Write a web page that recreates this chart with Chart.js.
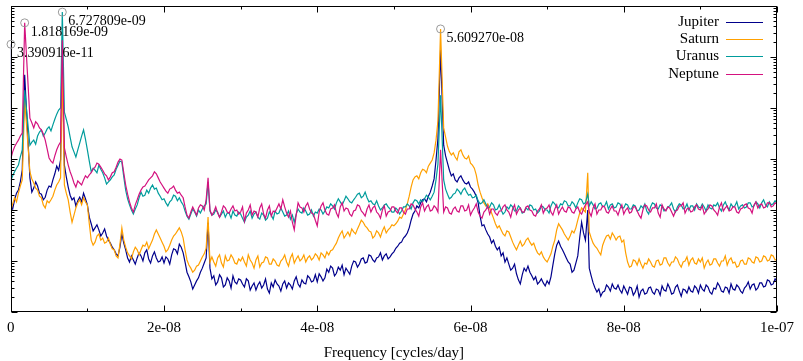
<!DOCTYPE html>
<html><head><meta charset="utf-8">
<script src="https://cdn.jsdelivr.net/npm/chart.js@4.4.1/dist/chart.umd.min.js"></script>
<style>html,body{margin:0;padding:0;background:#fff}</style>
</head><body>
<canvas id="c" width="803" height="361"></canvas>
<script>
// Frequency in units of 1e-8 cycles/day
const freqE8 = [
 0.003390916,0.00678,0.025,0.05,0.075,0.1,0.125,0.15,0.1818169,0.25,0.275,0.3,0.325,0.35,0.375,0.4,0.425,0.45,0.475,0.5,0.525,0.55,0.575,0.6,0.625,0.65,0.6727809,0.7,0.725,0.75,0.775,0.8,0.825,0.85,0.875,0.9,0.925,0.95,0.975,
 1,1.025,1.05,1.075,1.1,1.125,1.15,1.175,1.2,1.225,1.25,1.275,1.3,1.325,1.35,1.375,1.4,1.425,1.45,1.475,1.5,1.525,1.55,1.575,1.6,1.625,1.65,1.675,1.7,1.725,1.75,1.775,1.8,1.825,1.85,1.875,1.9,1.925,1.95,1.975,
 2,2.025,2.05,2.075,2.1,2.125,2.15,2.175,2.2,2.225,2.25,2.275,2.3,2.325,2.35,2.375,2.4,2.425,2.45,2.475,2.5,2.525,2.55,2.575,2.6,2.625,2.65,2.675,2.7,2.725,2.75,2.775,2.8,2.825,2.85,2.875,2.9,2.925,2.95,2.975,
 3,3.025,3.05,3.075,3.1,3.125,3.15,3.175,3.2,3.225,3.25,3.275,3.3,3.325,3.35,3.375,3.4,3.425,3.45,3.475,3.5,3.525,3.55,3.575,3.6,3.625,3.65,3.675,3.7,3.725,3.75,3.775,3.8,3.825,3.85,3.875,3.9,3.925,3.95,3.975,
 4,4.025,4.05,4.075,4.1,4.125,4.15,4.175,4.2,4.225,4.25,4.275,4.3,4.325,4.35,4.375,4.4,4.425,4.45,4.475,4.5,4.525,4.55,4.575,4.6,4.625,4.65,4.675,4.7,4.725,4.75,4.775,4.8,4.825,4.85,4.875,4.9,4.925,4.95,4.975,
 5,5.025,5.05,5.075,5.1,5.125,5.15,5.175,5.2,5.225,5.25,5.275,5.3,5.325,5.35,5.375,5.4,5.425,5.45,5.475,5.5,5.525,5.55,5.575,5.60927,5.65,5.675,5.7,5.725,5.75,5.775,5.8,5.825,5.85,5.875,5.9,5.925,5.95,5.975,
 6,6.025,6.05,6.075,6.1,6.125,6.15,6.175,6.2,6.225,6.25,6.275,6.3,6.325,6.35,6.375,6.4,6.425,6.45,6.475,6.5,6.525,6.55,6.575,6.6,6.625,6.65,6.675,6.7,6.725,6.75,6.775,6.8,6.825,6.85,6.875,6.9,6.925,6.95,6.975,
 7,7.025,7.05,7.075,7.1,7.125,7.15,7.175,7.2,7.225,7.25,7.275,7.3,7.325,7.35,7.375,7.4,7.425,7.45,7.475,7.5,7.53,7.55,7.575,7.6,7.625,7.65,7.675,7.7,7.725,7.75,7.775,7.8,7.825,7.85,7.875,7.9,7.925,7.95,7.975,
 8,8.025,8.05,8.075,8.1,8.125,8.15,8.175,8.2,8.225,8.25,8.275,8.3,8.325,8.35,8.375,8.4,8.425,8.45,8.475,8.5,8.525,8.55,8.575,8.6,8.625,8.65,8.675,8.7,8.725,8.75,8.775,8.8,8.825,8.85,8.875,8.9,8.925,8.95,8.975,
 9,9.025,9.05,9.075,9.1,9.125,9.15,9.175,9.2,9.225,9.25,9.275,9.3,9.325,9.35,9.375,9.4,9.425,9.45,9.475,9.5,9.525,9.55,9.575,9.6,9.625,9.65,9.675,9.7,9.725,9.75,9.775,9.8,9.825,9.85,9.875,9.9,9.925,9.95,9.975,10
];
// log10 of spectral power (arbitrary units)
const jupiterLog = [
 5.25,2.10,2.02,2.20,2.33,2.39,2.55,2.78,4.65,2.63,2.35,2.43,2.55,2.47,2.33,2.31,2.20,2.25,2.39,2.47,2.45,2.59,2.71,2.86,2.78,2.98,5.04,2.88,2.65,2.45,2.29,2.20,2.24,2.08,2.18,2.25,2.16,2.33,2.22,
 2.10,1.86,1.73,1.59,1.65,1.71,1.61,1.49,1.55,1.63,1.49,1.41,1.35,1.27,1.22,1.14,1.10,1.27,1.53,1.35,1.22,1.06,0.98,1.10,1.02,0.94,1.06,1.16,1.10,1.00,1.16,1.22,1.04,0.96,1.10,1.18,1.06,0.98,1.00,1.08,
 0.96,1.08,1.04,0.94,1.12,1.24,1.22,1.14,1.33,1.27,1.16,0.98,0.78,0.69,0.59,0.45,0.53,0.61,0.67,0.78,0.86,0.96,1.06,1.75,0.86,0.65,0.71,0.53,0.59,0.73,0.67,0.49,0.53,0.67,0.61,0.47,0.71,0.59,0.55,0.65,
 0.63,0.55,0.49,0.65,0.61,0.43,0.51,0.57,0.43,0.53,0.59,0.47,0.53,0.65,0.45,0.37,0.57,0.49,0.63,0.55,0.51,0.41,0.55,0.61,0.47,0.57,0.53,0.45,0.61,0.69,0.55,0.49,0.63,0.57,0.55,0.71,0.67,0.59,0.61,0.73,
 0.59,0.75,0.69,0.61,0.67,0.84,0.78,0.90,0.86,0.71,0.76,0.88,0.82,0.92,0.73,0.86,0.80,0.74,0.90,1.00,0.98,0.88,0.94,1.04,1.06,0.96,0.98,1.12,1.10,1.02,0.98,1.06,1.08,1.16,1.02,1.10,1.14,1.04,1.08,1.14,
 1.18,1.25,1.29,1.35,1.37,1.45,1.49,1.55,1.65,1.80,1.92,1.98,2.08,2.04,2.14,2.20,2.22,2.16,2.27,2.35,2.47,2.61,2.98,3.40,5.14,3.27,3.06,2.92,2.78,2.67,2.71,2.59,2.55,2.63,2.67,2.59,2.53,2.51,2.55,
 2.45,2.41,2.35,2.27,2.14,1.88,1.69,1.71,1.61,1.53,1.47,1.35,1.41,1.29,1.22,1.27,1.10,1.16,0.98,1.06,0.94,0.82,0.86,0.94,0.75,0.63,0.55,0.73,0.86,0.80,0.90,0.78,0.71,0.63,0.69,0.55,0.59,0.65,0.57,0.51,
 0.61,0.55,0.69,0.92,1.14,1.31,1.39,1.29,1.22,1.14,1.06,0.98,0.94,0.78,0.82,0.96,1.10,1.45,1.76,1.55,1.41,2.00,0.86,0.71,0.57,0.47,0.39,0.45,0.31,0.39,0.41,0.53,0.49,0.41,0.55,0.47,0.45,0.53,0.43,0.37,
 0.51,0.43,0.35,0.49,0.47,0.33,0.39,0.51,0.29,0.41,0.45,0.35,0.37,0.47,0.49,0.39,0.35,0.45,0.43,0.33,0.51,0.43,0.41,0.55,0.47,0.35,0.37,0.49,0.53,0.41,0.31,0.45,0.43,0.37,0.49,0.41,0.39,0.51,0.47,0.37,
 0.53,0.45,0.41,0.53,0.49,0.39,0.35,0.47,0.45,0.57,0.51,0.41,0.39,0.49,0.47,0.37,0.55,0.45,0.43,0.53,0.49,0.41,0.37,0.47,0.51,0.59,0.45,0.53,0.55,0.43,0.47,0.57,0.57,0.49,0.51,0.63,0.61,0.53,0.55,0.65,0.59
];
const saturnLog = [
 2.00,2.00,2.12,2.24,2.16,2.33,2.47,2.59,4.16,2.75,2.61,2.53,2.43,2.39,2.27,2.24,2.10,2.04,2.18,2.14,2.20,2.27,2.39,2.49,2.55,2.63,4.75,2.49,2.33,2.20,1.96,1.76,1.90,2.04,2.14,2.20,2.10,2.24,2.16,
 2.10,1.73,1.41,1.31,1.37,1.49,1.53,1.41,1.45,1.35,1.37,1.45,1.33,1.24,1.22,1.10,1.06,1.33,1.65,1.41,1.27,1.16,1.10,1.04,1.18,1.27,1.22,1.12,1.22,1.31,1.29,1.37,1.24,1.33,1.41,1.53,1.61,1.53,1.45,1.37,
 1.29,1.18,1.22,1.31,1.41,1.49,1.53,1.59,1.65,1.57,1.45,1.22,1.02,0.92,0.86,0.78,0.82,0.90,0.92,1.00,1.08,1.14,1.25,1.86,0.98,1.08,0.98,0.90,1.06,1.12,0.96,0.88,1.10,1.00,1.02,1.12,1.06,0.96,0.94,1.04,
 1.00,1.08,0.98,0.90,1.12,1.02,0.96,0.86,1.02,1.10,0.88,0.96,0.98,1.08,1.06,0.94,0.94,1.04,1.00,0.92,0.90,1.00,1.04,1.12,0.98,0.90,1.06,1.14,0.96,1.04,1.10,1.00,1.04,1.12,0.98,1.06,1.10,1.02,1.06,1.14,
 1.10,1.02,1.16,1.12,1.06,1.18,1.12,1.20,1.22,1.29,1.35,1.45,1.53,1.59,1.45,1.51,1.57,1.49,1.63,1.57,1.53,1.63,1.71,1.80,1.76,1.69,1.65,1.59,1.57,1.45,1.49,1.59,1.55,1.47,1.59,1.67,1.55,1.61,1.65,1.71,
 1.69,1.73,1.78,1.86,1.84,1.92,2.00,2.12,2.27,2.45,2.59,2.65,2.67,2.61,2.73,2.80,2.78,2.73,2.86,2.92,2.98,3.12,3.37,3.75,5.55,3.61,3.43,3.25,3.14,3.08,3.12,3.04,2.98,3.14,3.18,3.08,3.02,3.00,3.06,
 2.92,2.88,2.82,2.69,2.49,2.35,2.24,2.14,2.08,2.12,2.04,1.94,1.84,1.73,1.65,1.69,1.61,1.53,1.49,1.59,1.57,1.47,1.37,1.29,1.22,1.31,1.39,1.29,1.33,1.41,1.45,1.37,1.31,1.35,1.24,1.16,1.12,1.18,1.08,1.02,
 0.98,1.06,1.14,1.29,1.41,1.61,1.73,1.67,1.61,1.53,1.47,1.41,1.49,1.59,1.55,1.65,1.80,1.94,2.04,2.00,1.96,2.73,1.57,1.45,1.35,1.29,1.25,1.18,1.12,1.31,1.41,1.49,1.51,1.43,1.55,1.49,1.41,1.47,1.49,1.37,
 1.41,1.16,0.98,0.88,0.90,1.02,1.00,0.92,1.04,0.94,0.86,0.96,0.94,1.04,0.98,0.90,0.88,1.00,1.02,0.92,0.94,1.06,1.06,0.96,0.90,0.98,0.98,1.08,1.04,0.94,0.88,0.98,1.00,1.08,0.92,1.02,1.06,0.96,0.94,1.04,
 0.98,1.06,0.86,0.96,1.02,0.92,0.94,1.04,1.04,0.96,0.90,1.00,1.00,1.10,0.92,1.02,1.06,0.96,0.98,0.88,0.90,1.00,1.02,0.94,0.94,1.06,1.04,0.98,0.96,1.08,1.06,0.98,1.00,1.10,1.08,1.00,1.02,1.12,1.10,1.02,1.04
];
const uranusLog = [
 2.59,2.59,2.67,2.75,2.82,2.88,3.04,3.18,4.35,3.27,3.33,3.37,3.29,3.45,3.53,3.57,3.45,3.51,3.59,3.63,3.55,3.67,3.78,3.88,3.96,4.00,5.88,3.92,3.78,3.63,3.43,3.24,3.14,3.04,3.18,3.31,3.45,3.57,3.39,
 3.18,2.96,2.75,2.82,2.78,2.73,2.88,2.80,2.73,2.63,2.51,2.55,2.59,2.65,2.69,2.80,2.88,2.96,2.94,2.65,2.39,2.22,2.10,2.00,1.92,2.02,2.10,2.24,2.35,2.27,2.29,2.39,2.33,2.43,2.49,2.41,2.43,2.33,2.27,2.20,
 2.22,2.14,2.08,2.16,2.20,2.29,2.27,2.18,2.24,2.16,2.10,1.98,1.88,1.82,1.92,2.02,1.96,1.88,2.00,1.94,2.02,2.08,2.12,2.55,1.98,1.90,1.92,2.00,1.96,1.86,1.92,1.98,1.86,1.94,1.94,1.84,1.98,1.90,1.88,1.96,
 1.92,1.84,1.76,1.86,1.90,1.98,1.84,1.92,1.96,1.86,1.82,1.94,1.90,1.80,1.84,1.96,1.90,1.82,1.98,1.92,1.94,2.04,1.96,1.88,1.90,1.98,1.82,1.90,1.76,1.92,2.02,1.96,1.94,2.04,1.98,1.90,1.92,2.00,1.88,1.96,
 1.94,2.02,2.00,1.92,1.98,2.06,2.04,2.12,2.08,2.02,2.14,2.22,2.16,2.10,2.18,2.27,2.22,2.16,2.14,2.20,2.25,2.31,2.33,2.24,2.27,2.35,2.24,2.16,2.18,2.12,2.10,2.18,2.08,2.00,2.04,2.10,2.12,2.06,2.02,1.96,
 1.96,2.04,2.00,1.92,1.98,2.06,2.06,2.12,2.08,2.02,2.14,2.20,2.18,2.12,2.20,2.16,2.22,2.29,2.25,2.20,2.27,2.35,2.59,2.90,4.25,2.59,2.41,2.31,2.22,2.25,2.31,2.33,2.41,2.37,2.31,2.39,2.43,2.35,2.29,
 2.31,2.24,2.25,2.29,2.18,2.12,2.14,2.20,2.12,2.04,2.06,2.14,2.10,2.00,2.02,2.10,2.00,1.92,1.96,2.06,2.02,2.10,2.06,1.98,1.98,2.08,2.04,1.94,1.96,2.04,2.00,2.10,2.08,2.00,2.02,1.94,1.98,2.08,2.06,2.00,
 2.00,1.94,2.08,2.16,2.12,2.06,2.04,2.12,2.10,2.18,2.16,2.08,2.08,2.16,2.12,2.04,2.14,2.22,2.20,2.12,2.14,2.31,2.08,2.16,2.10,2.02,2.04,2.12,2.14,2.06,2.08,2.16,2.02,2.10,2.12,2.04,2.06,2.14,2.12,2.04,
 2.04,2.12,2.10,2.02,2.02,2.10,2.08,1.98,2.00,2.08,2.04,2.12,1.98,1.92,2.06,2.14,2.12,2.04,2.02,2.10,2.08,1.98,2.00,2.06,2.08,2.14,2.02,1.96,2.06,2.12,2.10,2.02,2.04,2.12,2.00,2.08,2.08,2.00,2.12,2.06,
 2.04,2.12,2.06,1.98,2.10,2.04,2.02,2.10,2.08,2.14,2.04,1.98,2.10,2.16,2.06,2.00,2.12,2.06,2.08,2.16,2.02,2.08,2.10,2.04,2.06,2.14,2.14,2.06,2.08,2.16,2.12,2.04,2.14,2.20,2.10,2.06,2.16,2.10,2.12,2.18,2.14
];
const neptuneLog = [
 3.02,3.02,3.14,3.24,3.31,3.37,3.45,3.51,5.67,3.80,3.71,3.61,3.73,3.69,3.61,3.57,3.49,3.37,3.20,3.02,2.96,2.92,3.06,3.18,3.27,3.33,5.33,3.22,3.04,2.88,2.75,2.65,2.53,2.45,2.57,2.53,2.49,2.59,2.67,
 2.63,2.69,2.73,2.80,2.84,2.92,2.90,2.84,2.78,2.71,2.67,2.59,2.65,2.73,2.75,2.84,2.94,3.00,2.98,2.73,2.49,2.31,2.16,2.04,1.96,2.10,2.20,2.31,2.39,2.45,2.47,2.53,2.59,2.63,2.67,2.75,2.71,2.63,2.55,2.49,
 2.43,2.37,2.33,2.41,2.43,2.47,2.39,2.33,2.35,2.29,2.24,2.06,1.90,1.84,1.96,2.06,1.98,1.90,2.04,2.10,2.08,2.00,2.20,2.63,2.00,1.90,1.96,2.06,1.94,1.86,1.96,2.08,2.04,1.96,1.94,2.02,2.08,1.98,2.00,1.92,
 1.96,2.06,1.78,1.94,2.00,2.10,1.90,1.98,1.96,1.86,2.04,2.12,1.92,1.84,2.00,2.08,1.88,1.98,1.96,2.04,2.12,2.02,2.20,2.06,1.94,1.86,1.98,1.76,1.61,1.90,2.14,2.06,2.04,1.96,2.08,2.14,2.02,1.94,1.92,1.80,
 1.69,1.96,2.08,2.14,2.00,1.92,1.90,2.02,2.04,2.10,1.94,1.86,2.06,2.14,1.98,2.04,2.02,1.92,1.88,1.98,2.00,2.10,2.08,1.98,1.94,1.88,2.02,2.10,1.96,2.04,2.08,1.96,1.92,1.84,2.00,2.08,1.88,1.96,1.98,2.06,
 2.06,1.98,1.94,2.04,2.04,1.96,1.92,2.02,2.02,2.12,2.10,2.02,1.96,1.88,2.06,2.14,1.98,2.06,2.10,1.98,2.00,2.08,2.04,1.96,3.18,1.96,2.06,2.04,1.94,1.92,2.02,2.06,1.98,1.96,2.08,2.08,1.98,2.00,2.10,
 1.90,1.98,2.04,2.12,1.96,1.88,1.84,1.96,2.00,2.08,1.92,2.02,2.02,1.94,1.90,1.98,1.98,2.06,2.10,2.00,1.96,1.86,2.02,2.10,1.92,2.00,2.04,1.96,1.96,2.06,2.08,2.00,1.98,1.90,1.88,1.98,2.02,2.10,1.94,2.02,
 2.04,2.10,1.96,1.90,2.02,2.10,1.92,2.00,2.06,1.98,1.96,2.06,2.04,1.96,1.94,2.02,2.06,1.96,1.92,2.02,2.10,2.16,1.96,1.88,2.04,2.12,1.92,2.00,2.00,2.08,2.06,1.96,1.94,2.02,2.08,1.98,1.98,1.90,2.02,2.10,
 1.92,2.00,2.04,1.94,1.96,2.06,2.06,1.98,1.90,1.84,2.00,2.10,2.08,2.00,1.96,2.04,2.04,2.12,1.94,1.86,2.10,2.02,1.98,2.06,2.04,1.96,1.88,1.98,2.00,2.08,2.08,2.14,1.94,2.02,2.04,1.96,1.98,2.06,2.10,2.02,
 2.00,2.08,1.92,1.98,2.02,2.10,2.08,2.00,1.96,1.90,2.06,2.14,1.98,2.04,2.08,1.98,2.00,2.06,2.06,1.96,1.94,2.02,2.04,2.10,2.12,2.04,2.02,1.94,2.10,2.16,2.04,2.10,2.12,2.04,2.06,2.14,2.14,2.06,2.08,2.14,2.12
];
const seriesNames = ['Jupiter', 'Saturn', 'Uranus', 'Neptune'];
const seriesColors = ['#00008b', '#ffa000', '#009c9c', '#d4127f'];
const peakFreqs = [3.390916e-11, 1.818169e-09, 6.727809e-09, 5.609270e-08];
const peakSeries = [0, 3, 2, 1];
const xMinE8 = 0, xMaxE8 = 10, xStepE8 = 2;
const yMin = 1, yMax = 1e6;

const allLogs = [jupiterLog, saturnLog, uranusLog, neptuneLog];
allLogs.forEach((a, i) => { if (a.length !== freqE8.length) throw new Error(seriesNames[i] + ' length ' + a.length + ' vs ' + freqE8.length); });

const FONT = '"Liberation Serif", "Times New Roman", serif';
const padExp = s => s.replace(/e([+-])(\d)$/, 'e$10$2');
const fmtTick = v => v === 0 ? '0' : padExp(parseFloat((v * 1e-8).toPrecision(6)).toExponential());

const datasets = allLogs.map((arr, i) => ({
  label: seriesNames[i],
  data: freqE8.map((f, j) => ({ x: f, y: Math.pow(10, arr[j]) })),
  borderColor: seriesColors[i],
  backgroundColor: seriesColors[i],
  borderWidth: 1.2,
  pointRadius: 0,
  tension: 0,
  fill: false,
  order: 4 - i
}));

const framePlugin = {
  id: 'frame',
  afterDatasetsDraw(chart) {
    const { ctx, chartArea: a, scales: { x, y } } = chart;
    ctx.save();
    ctx.strokeStyle = '#000';
    ctx.lineWidth = 1;
    const L = Math.round(a.left) + 0.5, R = Math.round(a.right) - 0.5;
    const T = Math.round(a.top) + 0.5, B = Math.round(a.bottom) - 0.5;
    ctx.beginPath();
    const xt = x.ticks.map(t => t.value);
    xt.forEach((v, k) => {
      const p = Math.round(x.getPixelForValue(v)) + 0.5;
      ctx.moveTo(p, B); ctx.lineTo(p, B - 6);
      ctx.moveTo(p, T); ctx.lineTo(p, T + 6);
      if (k < xt.length - 1) {
        const pm = Math.round(x.getPixelForValue((v + xt[k + 1]) / 2)) + 0.5;
        ctx.moveTo(pm, B); ctx.lineTo(pm, B - 3);
        ctx.moveTo(pm, T); ctx.lineTo(pm, T + 3);
      }
    });
    const d0 = Math.round(Math.log10(yMin)), d1 = Math.round(Math.log10(yMax));
    for (let d = d0; d <= d1; d++) {
      for (let k = 1; k <= 9; k++) {
        const v = k * Math.pow(10, d);
        if (v > yMax * 1.0001) break;
        const p = Math.round(y.getPixelForValue(v)) + 0.5;
        const len = k === 1 ? 6 : 3;
        ctx.moveTo(L, p); ctx.lineTo(L + len, p);
        ctx.moveTo(R, p); ctx.lineTo(R - len, p);
      }
    }
    ctx.stroke();
    ctx.strokeRect(L, T, R - L, B - T);

    ctx.font = '14px ' + FONT;
    ctx.textAlign = 'left';
    ctx.textBaseline = 'middle';
    peakFreqs.forEach((pf, i) => {
      const target = pf / 1e-8;
      let idx = 0;
      freqE8.forEach((f, j) => { if (Math.abs(f - target) < Math.abs(freqE8[idx] - target)) idx = j; });
      const ds = chart.data.datasets[peakSeries[i]];
      const px = x.getPixelForValue(ds.data[idx].x);
      const py = y.getPixelForValue(ds.data[idx].y);
      ctx.strokeStyle = '#9a9a9a';
      ctx.lineWidth = 1;
      ctx.beginPath();
      ctx.arc(px, py, 4, 0, Math.PI * 2);
      ctx.stroke();
      ctx.fillStyle = '#000';
      ctx.fillText(padExp(pf.toExponential(6)), px + 6, py + 9);
    });

    ctx.font = '15px ' + FONT;
    ctx.textAlign = 'right';
    chart.data.datasets.forEach((ds, i) => {
      const yy = Math.round(a.top + 15.5 + i * 17.4) + 0.5;
      ctx.fillStyle = '#000';
      ctx.fillText(ds.label, a.right - 58, yy);
      ctx.strokeStyle = ds.borderColor;
      ctx.lineWidth = 1;
      ctx.beginPath();
      ctx.moveTo(a.right - 51, yy); ctx.lineTo(a.right - 14, yy);
      ctx.stroke();
    });
    ctx.restore();
  }
};

new Chart(document.getElementById('c'), {
  type: 'line',
  data: { datasets },
  options: {
    responsive: false,
    animation: false,
    events: [],
    layout: { padding: { left: 8, right: 26, top: 6, bottom: 0 } },
    plugins: { legend: { display: false }, tooltip: { enabled: false } },
    scales: {
      x: {
        type: 'linear', min: xMinE8, max: xMaxE8,
        grid: { display: false, drawTicks: false },
        border: { display: false },
        ticks: { stepSize: xStepE8, autoSkip: false, maxRotation: 0, padding: 7, color: '#000',
                 font: { family: FONT, size: 15 }, callback: v => fmtTick(v) },
        title: { display: true, text: 'Frequency [cycles/day]', color: '#000',
                 font: { family: FONT, size: 15, lineHeight: 1 }, padding: { top: 2, bottom: 0 } }
      },
      y: { type: 'logarithmic', min: yMin, max: yMax, display: false }
    }
  },
  plugins: [framePlugin]
});
</script>
</body></html>
